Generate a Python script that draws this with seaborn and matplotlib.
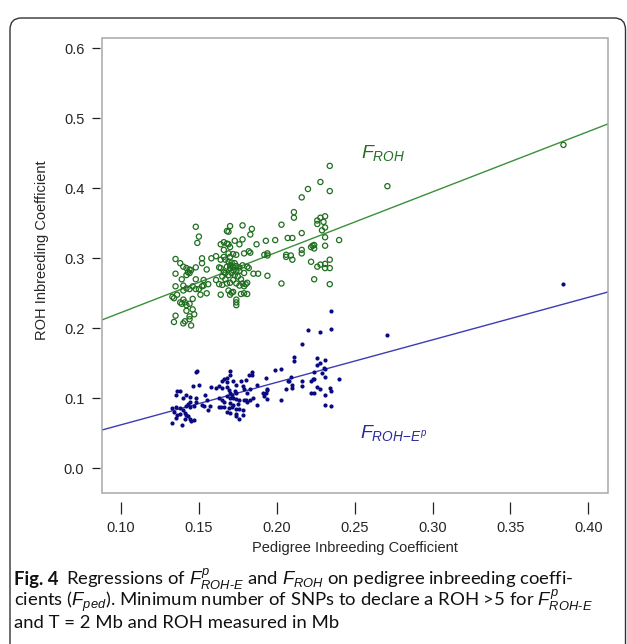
import numpy as np
import pandas as pd
import seaborn as sns
import matplotlib
matplotlib.use("Agg")
import matplotlib.pyplot as plt
from matplotlib.patches import FancyBboxPatch, Rectangle

# ---------------- data ----------------
froh_x = [0.148, 0.150, 0.149, 0.135, 0.138, 0.140, 0.142, 0.144, 0.143, 0.145, 0.135, 0.142, 0.144, 0.148,
          0.152, 0.152, 0.148, 0.139, 0.135, 0.140, 0.142, 0.144, 0.146, 0.140, 0.136, 0.133, 0.134, 0.140,
          0.141, 0.138, 0.139, 0.144, 0.142, 0.146, 0.146, 0.142, 0.135, 0.144, 0.147, 0.144, 0.134, 0.140,
          0.141, 0.145, 0.148, 0.152, 0.153, 0.155, 0.156, 0.155, 0.151, 0.150, 0.158, 0.153,
          0.168, 0.170, 0.169, 0.178, 0.184, 0.183, 0.178, 0.173, 0.166, 0.168, 0.164, 0.169, 0.170, 0.166,
          0.169, 0.170, 0.172, 0.174, 0.176, 0.179, 0.182, 0.183, 0.187, 0.161, 0.164, 0.167, 0.169, 0.171,
          0.173, 0.170, 0.168, 0.170, 0.172, 0.174, 0.176, 0.178, 0.172, 0.174, 0.176, 0.181, 0.182, 0.163,
          0.164, 0.166, 0.167, 0.169, 0.171, 0.173, 0.175, 0.179, 0.185, 0.188, 0.161, 0.163, 0.165, 0.168,
          0.170, 0.174, 0.176, 0.179, 0.180, 0.181, 0.164, 0.169, 0.171, 0.170, 0.172, 0.177, 0.179, 0.181,
          0.174, 0.174, 0.174, 0.166, 0.165, 0.167, 0.172, 0.177, 0.178,
          0.234, 0.228, 0.234, 0.220, 0.216, 0.211, 0.211, 0.203, 0.216, 0.199, 0.193, 0.207, 0.210, 0.226,
          0.228, 0.231, 0.230, 0.226, 0.231, 0.229, 0.231, 0.240, 0.223, 0.224, 0.224, 0.222, 0.231, 0.216,
          0.216, 0.206, 0.206, 0.209, 0.210, 0.194, 0.192, 0.194, 0.194, 0.203, 0.222, 0.226, 0.228, 0.231,
          0.234, 0.231, 0.234, 0.224, 0.234, 0.271, 0.384]
froh_y = [0.345, 0.331, 0.322, 0.299, 0.293, 0.288, 0.286, 0.284, 0.280, 0.283, 0.278, 0.276, 0.279, 0.287,
          0.300, 0.293, 0.270, 0.270, 0.260, 0.261, 0.257, 0.256, 0.260, 0.254, 0.248, 0.245, 0.243, 0.241,
          0.237, 0.237, 0.235, 0.235, 0.233, 0.242, 0.227, 0.225, 0.218, 0.217, 0.220, 0.213, 0.209, 0.207,
          0.210, 0.204, 0.256, 0.260, 0.261, 0.284, 0.263, 0.250, 0.248, 0.256, 0.300, 0.269,
          0.339, 0.346, 0.338, 0.347, 0.342, 0.334, 0.327, 0.325, 0.323, 0.321, 0.320, 0.320, 0.316, 0.312,
          0.307, 0.302, 0.306, 0.305, 0.320, 0.307, 0.310, 0.308, 0.320, 0.303, 0.298, 0.298, 0.295, 0.294,
          0.293, 0.290, 0.288, 0.286, 0.288, 0.289, 0.287, 0.290, 0.283, 0.281, 0.282, 0.288, 0.286, 0.287,
          0.286, 0.280, 0.279, 0.276, 0.279, 0.276, 0.274, 0.279, 0.278, 0.278, 0.269, 0.263, 0.262, 0.264,
          0.265, 0.264, 0.261, 0.260, 0.263, 0.265, 0.248, 0.254, 0.251, 0.248, 0.252, 0.249, 0.250, 0.249,
          0.241, 0.237, 0.233, 0.302, 0.274, 0.270, 0.269, 0.270, 0.264,
          0.432, 0.409, 0.396, 0.399, 0.387, 0.366, 0.358, 0.348, 0.336, 0.326, 0.325, 0.329, 0.329, 0.354,
          0.358, 0.360, 0.352, 0.349, 0.344, 0.340, 0.330, 0.326, 0.318, 0.319, 0.314, 0.316, 0.318, 0.312,
          0.307, 0.302, 0.305, 0.304, 0.298, 0.307, 0.305, 0.304, 0.275, 0.264, 0.295, 0.288, 0.291, 0.292,
          0.298, 0.286, 0.286, 0.270, 0.263, 0.403, 0.462]

frohe_x = [0.235, 0.220, 0.228, 0.235, 0.216, 0.211, 0.211, 0.199, 0.203, 0.226, 0.228, 0.231, 0.230, 0.231,
           0.226, 0.224, 0.229, 0.231, 0.240, 0.223, 0.222, 0.224, 0.216, 0.216, 0.209, 0.208, 0.207, 0.210,
           0.210, 0.206, 0.193, 0.194, 0.193, 0.194, 0.194, 0.203, 0.222, 0.224, 0.228, 0.226, 0.234, 0.235,
           0.231, 0.231, 0.235, 0.271, 0.384,
           0.148, 0.149, 0.146, 0.150, 0.136, 0.138, 0.135, 0.142, 0.144, 0.140, 0.144, 0.143, 0.148, 0.148,
           0.154, 0.155, 0.158, 0.161, 0.152, 0.153, 0.156, 0.157, 0.133, 0.135, 0.138, 0.140, 0.142, 0.144,
           0.147, 0.141, 0.142, 0.143, 0.136, 0.134, 0.133, 0.139, 0.141, 0.144, 0.145, 0.147, 0.135, 0.138,
           0.170, 0.170, 0.168, 0.166, 0.165, 0.168, 0.172, 0.174, 0.177, 0.180, 0.182, 0.184, 0.178, 0.179,
           0.183, 0.163, 0.165, 0.168, 0.169, 0.170, 0.171, 0.173, 0.174, 0.168, 0.170, 0.172, 0.174, 0.176,
           0.163, 0.165, 0.166, 0.170, 0.172, 0.175, 0.179, 0.181, 0.183, 0.185, 0.187, 0.163, 0.164, 0.166,
           0.169, 0.171, 0.174, 0.176, 0.178, 0.168, 0.170, 0.174, 0.178, 0.174, 0.176, 0.187, 0.191, 0.192,
           0.184, 0.180, 0.181]
frohe_y = [0.224, 0.197, 0.194, 0.199, 0.177, 0.159, 0.153, 0.141, 0.142, 0.158, 0.151, 0.154, 0.143, 0.142,
           0.148, 0.138, 0.136, 0.130, 0.128, 0.128, 0.124, 0.127, 0.125, 0.118, 0.130, 0.125, 0.124, 0.119,
           0.115, 0.113, 0.129, 0.113, 0.107, 0.112, 0.099, 0.098, 0.108, 0.108, 0.113, 0.116, 0.115, 0.111,
           0.105, 0.091, 0.089, 0.190, 0.263,
           0.138, 0.139, 0.118, 0.119, 0.111, 0.110, 0.105, 0.105, 0.102, 0.101, 0.095, 0.092, 0.095, 0.100,
           0.105, 0.097, 0.116, 0.114, 0.091, 0.089, 0.083, 0.089, 0.086, 0.088, 0.086, 0.083, 0.089, 0.087,
           0.089, 0.079, 0.076, 0.075, 0.076, 0.080, 0.065, 0.062, 0.071, 0.071, 0.068, 0.069, 0.072, 0.078,
           0.139, 0.133, 0.129, 0.127, 0.124, 0.123, 0.124, 0.119, 0.124, 0.126, 0.133, 0.138, 0.117, 0.113,
           0.113, 0.118, 0.114, 0.116, 0.112, 0.108, 0.105, 0.110, 0.107, 0.103, 0.101, 0.100, 0.099, 0.098,
           0.100, 0.098, 0.095, 0.093, 0.090, 0.092, 0.097, 0.094, 0.098, 0.101, 0.090, 0.088, 0.088, 0.087,
           0.086, 0.087, 0.084, 0.085, 0.083, 0.081, 0.079, 0.077, 0.076, 0.075, 0.071, 0.119, 0.107, 0.103,
           0.133, 0.098, 0.107]

# fitted regression lines (intercept, slope)
froh_fit = (0.1363, 0.862)
frohe_fit = (0.0014, 0.607)

x_ticks = [0.10, 0.15, 0.20, 0.25, 0.30, 0.35, 0.40]
y_ticks = [0.0, 0.1, 0.2, 0.3, 0.4, 0.5, 0.6]
x_lim = (0.0878, 0.4126)
y_lim = (-0.0353, 0.6147)

green_pt = "#1f6e1f"
green_ln = "#3a8f3a"
navy_pt = "#0a0a80"
blue_ln = "#3b3bb5"

# ---------------- figure ----------------
sns.set_style("white")
plt.rcParams["font.family"] = ["Liberation Sans", "DejaVu Sans"]
plt.rcParams["mathtext.fontset"] = "custom"
plt.rcParams["mathtext.rm"] = "Liberation Sans"
plt.rcParams["mathtext.it"] = "Liberation Sans:italic"
plt.rcParams["mathtext.bf"] = "Liberation Sans:bold"

W, H = 627, 644
fig = plt.figure(figsize=(W / 100, H / 100), dpi=100)

def fx(px):
    return px / W

def fy(py):
    return 1 - py / H

# outer rounded frame
frame = FancyBboxPatch((fx(10), fy(660)), fx(615.5), (660 - 18) / H,
                       boxstyle="round,pad=0,rounding_size=0.018",
                       transform=fig.transFigure, fill=False,
                       edgecolor="#333333", linewidth=1.0)
fig.patches.append(frame)

ax = fig.add_axes([fx(102), fy(493), (608 - 102) / W, (493 - 38) / H])

df_g = pd.DataFrame({"x": froh_x, "y": froh_y})
df_b = pd.DataFrame({"x": frohe_x, "y": frohe_y})

sns.scatterplot(data=df_g, x="x", y="y", ax=ax, marker="o", s=14,
                facecolors="none", edgecolor=green_pt, linewidth=0.9, zorder=3)
sns.scatterplot(data=df_b, x="x", y="y", ax=ax, marker="o", s=9,
                color=navy_pt, edgecolor=navy_pt, linewidth=0, zorder=3)

xs = np.array(x_lim)
sns.lineplot(x=xs, y=froh_fit[0] + froh_fit[1] * xs, ax=ax, color=green_ln, linewidth=1.0, zorder=2)
sns.lineplot(x=xs, y=frohe_fit[0] + frohe_fit[1] * xs, ax=ax, color=blue_ln, linewidth=1.0, zorder=2)

ax.set_xlim(*x_lim)
ax.set_ylim(*y_lim)
ax.set_xticks(x_ticks)
ax.set_yticks(y_ticks)
ax.set_xticklabels([f"{v:.2f}" for v in x_ticks])
ax.set_yticklabels([f"{v:.1f}" for v in y_ticks])
ax.set_xlabel("")
ax.set_ylabel("")

for s in ax.spines.values():
    s.set_visible(False)
ax.spines["left"].set_position(("outward", 1.4))
ax.spines["bottom"].set_position(("outward", 6.5))
ax.add_patch(Rectangle((0, 0), 1, 1, transform=ax.transAxes, fill=False,
                       edgecolor="#a8a8a8", linewidth=1.1, clip_on=False, zorder=5))
ax.tick_params(axis="y", direction="out", length=5.8, width=0.9, color="#222222",
               pad=5.5, labelsize=10.5, left=True)
ax.tick_params(axis="x", direction="out", length=8.6, width=0.9, color="#222222",
               pad=5.0, labelsize=10.5, bottom=True)
ax.grid(False)

ax.text(0.268, 0.450, r"$F_{ROH}$", color="#237023", fontsize=14,
        ha="center", va="center")
ax.text(0.275, 0.050, r"$F_{ROH\!-\!E^{p}}$", color="#2a2a9c", fontsize=14,
        ha="center", va="center")

fig.text(fx(355), fy(548), "Pedigree Inbreeding Coefficient", ha="center", va="center",
         fontsize=10.5)
fig.text(fx(42), fy(250), "ROH Inbreeding Coefficient", ha="center", va="center",
         rotation=90, fontsize=10.5)

# caption
cap_font = ["Lato", "DejaVu Sans"]
cap_size = 13.3
fig.canvas.draw()
r = fig.canvas.get_renderer()
t_bold = fig.text(fx(14), fy(585), "Fig. 4", fontsize=cap_size, fontweight="bold",
                  family=cap_font, ha="left", va="baseline", color="#111111")
bb = t_bold.get_window_extent(renderer=r)
fig.text(bb.x1 / W + fx(8), fy(585),
         r"Regressions of $F^{p}_{ROH\text{-}E}$ and $F_{ROH}$ on pedigree inbreeding coeffi-",
         fontsize=cap_size, family=cap_font, ha="left", va="baseline", color="#111111")
fig.text(fx(14), fy(606),
         r"cients ($F_{ped}$). Minimum number of SNPs to declare a ROH >5 for $F^{p}_{ROH\text{-}E}$",
         fontsize=cap_size, family=cap_font, ha="left", va="baseline", color="#111111")
fig.text(fx(14), fy(628), "and T = 2 Mb and ROH measured in Mb",
         fontsize=cap_size, family=cap_font, ha="left", va="baseline", color="#111111")

fig.savefig("out.png", dpi=100)
